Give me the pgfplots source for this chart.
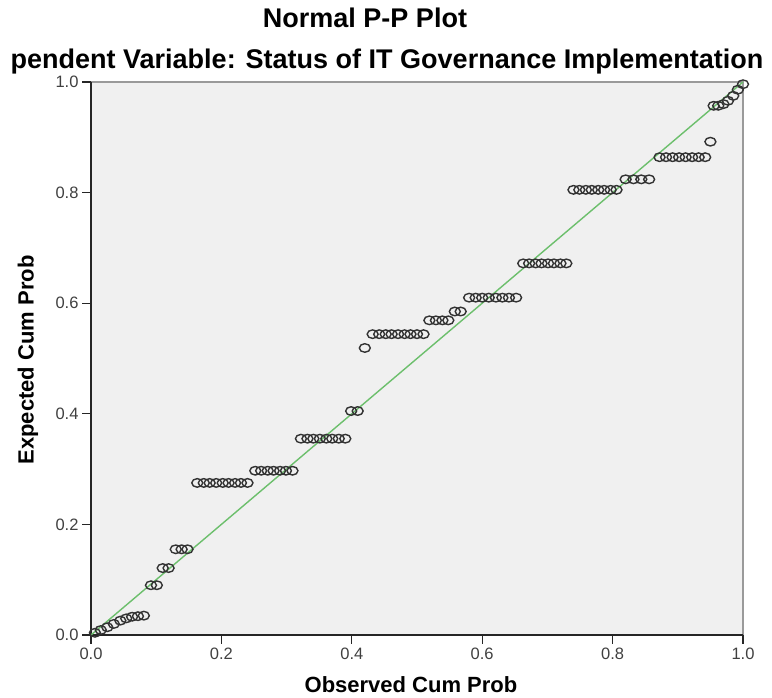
\documentclass[border=0pt]{standalone}
\usepackage{fontspec}
\setmainfont{Liberation Sans}
\usepackage{pgfplots}
\pgfplotsset{compat=1.18}
\definecolor{panel}{HTML}{F0F0F0}
\definecolor{refgreen}{HTML}{6CBF6C}
\definecolor{frame}{HTML}{9A9A9A}

\begin{document}
\begin{tikzpicture}[x=1pt,y=1pt]
\useasboundingbox (-91,-63) rectangle (681,635);
\begin{axis}[
    at={(0,0)}, anchor=south west,
    scale only axis,
    width=652pt, height=553pt,
    xmin=0, xmax=1, ymin=0, ymax=1,
    clip=false,
    axis background/.style={fill=panel, draw=frame, line width=2.5pt},
    axis x line*=bottom, axis y line*=left,
    axis line style={black!85, line width=1.5pt},
    xtick={0,0.2,0.4,0.6,0.8,1},
    ytick={0,0.2,0.4,0.6,0.8,1},
    tick align=outside,
    major tick length=9pt,
    tick style={black!85, line width=1.3pt},
    ticklabel style={font=\fontsize{16.5}{19}\selectfont, text=black!75},
    /pgf/number format/assume math mode=true,
    /pgf/number format/.cd, fixed, fixed zerofill, precision=1,
]
\addplot[refgreen, line width=1.4pt] coordinates {(0,0) (1,1)};
\addplot[only marks, mark=o, mark size=4.5pt,
    mark options={draw=black!80, line width=1.4pt, xscale=1.22, yscale=0.95}] coordinates {
    (0.006,0.004) (0.015,0.009) (0.025,0.014) (0.035,0.020) (0.045,0.026)
    (0.054,0.030) (0.063,0.033) (0.072,0.034) (0.081,0.035)
    (0.092,0.090) (0.101,0.090)
    (0.110,0.121) (0.119,0.121)
    (0.130,0.155) (0.139,0.155) (0.148,0.155)
    (0.163,0.275) (0.173,0.275) (0.182,0.275) (0.192,0.275) (0.202,0.275)
    (0.211,0.275) (0.221,0.275) (0.230,0.275) (0.240,0.275)
    (0.252,0.297) (0.261,0.297) (0.271,0.297) (0.280,0.297) (0.290,0.297)
    (0.299,0.297) (0.309,0.297)
    (0.322,0.355) (0.332,0.355) (0.341,0.355) (0.351,0.355) (0.361,0.355)
    (0.370,0.355) (0.380,0.355) (0.390,0.355)
    (0.399,0.405) (0.409,0.405)
    (0.420,0.519)
    (0.432,0.544) (0.442,0.544) (0.452,0.544) (0.461,0.544) (0.471,0.544)
    (0.481,0.544) (0.490,0.544) (0.500,0.544) (0.510,0.544)
    (0.519,0.569) (0.529,0.569) (0.539,0.569) (0.548,0.569)
    (0.558,0.585) (0.567,0.585)
    (0.580,0.610) (0.590,0.610) (0.600,0.610) (0.610,0.610) (0.621,0.610)
    (0.631,0.610) (0.641,0.610) (0.652,0.610)
    (0.663,0.672) (0.672,0.672) (0.682,0.672) (0.691,0.672) (0.701,0.672)
    (0.710,0.672) (0.720,0.672) (0.729,0.672)
    (0.740,0.805) (0.749,0.805) (0.759,0.805) (0.768,0.805) (0.778,0.805)
    (0.787,0.805) (0.797,0.805) (0.806,0.805)
    (0.820,0.824) (0.832,0.824) (0.844,0.824) (0.856,0.824)
    (0.872,0.864) (0.882,0.864) (0.892,0.864) (0.902,0.864) (0.912,0.864)
    (0.922,0.864) (0.932,0.864) (0.942,0.864)
    (0.950,0.892)
    (0.955,0.957) (0.962,0.957) (0.970,0.960)
    (0.977,0.966) (0.985,0.975) (0.992,0.986) (1.000,0.996)
};
\end{axis}
\node[font=\fontsize{27}{30}\selectfont\bfseries] at (274,617) {Normal P-P Plot};
\node[font=\fontsize{27}{30}\selectfont\bfseries] at (296,573) {pendent Variable: Status of IT Governance Implementation};
\node[font=\fontsize{22}{26}\selectfont\bfseries] at (320,-50) {Observed Cum Prob};
\node[font=\fontsize{22}{26}\selectfont\bfseries, rotate=90] at (-63,275) {Expected Cum Prob};
\end{tikzpicture}
\end{document}
